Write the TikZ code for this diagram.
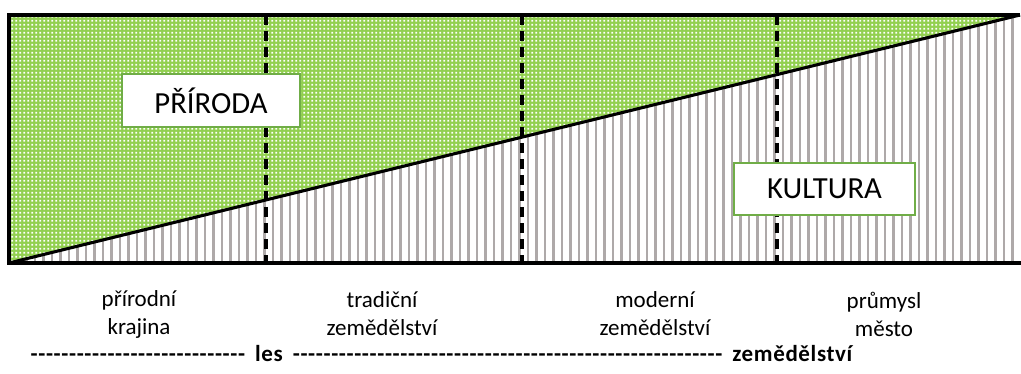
\documentclass[tikz,border=0pt]{standalone}
\usepackage{fontspec}
\setmainfont{Carlito}[Ligatures=TeXOff]
\usetikzlibrary{patterns}
\pgfdeclarepatternformonly{greendots}{\pgfqpoint{0pt}{0pt}}{\pgfqpoint{2.7pt}{2.7pt}}{\pgfqpoint{2.7pt}{2.7pt}}{\pgfpathrectangle{\pgfqpoint{0.35pt}{0.35pt}}{\pgfqpoint{1.4pt}{1.4pt}}\pgfusepath{fill}}
\definecolor{grassgreen}{HTML}{92D050}
\definecolor{boxgreen}{HTML}{70AD47}
\definecolor{hatchgray}{HTML}{AEA9A9}
\newcommand{\widespaces}{\addfontfeature{LetterSpace=2.8}\spaceskip=7.5pt\relax}
\tikzset{
  outline/.style={black, line width=2.3pt, line join=miter},
  hatchline/.style={hatchgray, line width=1.8pt},
  divider/.style={black, line width=2.4pt, dash pattern=on 7.5pt off 4.5pt},
  labelbox/.style={draw=boxgreen, line width=1.5pt, fill=white, inner sep=0pt,
    font=\fontsize{23}{28}\selectfont},
  caption/.style={align=center, font=\fontsize{17.25}{21}\selectfont},
  axis/.style={anchor=west, font=\fontsize{17.25}{21}\selectfont\bfseries}
}
\begin{document}
\begin{tikzpicture}[x=0.75pt,y=-0.75pt]
\useasboundingbox (0,0) rectangle (1021,374);
\coordinate (bl) at (9,263);
\coordinate (tl) at (9,15);
\coordinate (tr) at (1020,15);
\coordinate (br) at (1021,263);
% nature (green dotted)
\fill[grassgreen] (bl) -- (tl) -- (tr) -- cycle;
\fill[pattern=greendots, pattern color=white] (bl) -- (tl) -- (tr) -- cycle;
% culture (vertical hatch)
\begin{scope}
  \clip (bl) -- (tr) -- (1021,15) -- (br) -- cycle;
  \foreach \i in {0,...,119} \draw[hatchline] ({1012.3-8.5*\i},10) -- ++(0,260);
\end{scope}
% dividers
\foreach \x/\n in {266/a,522/b,777/c}{
  \coordinate (\n top) at (\x,15);
  \coordinate (\n bot) at (\x,263);
  \draw[divider] (\n top) -- (\n bot);
}
% outline
\draw[outline] (tr) -- (tl) -- (bl) -- (br);
\draw[outline] (bl) -- (tr);
% labels
\node[labelbox, minimum width=133.5pt, minimum height=39.75pt] (priroda) at (211,100.5) {PŘÍRODA};
\node[labelbox, minimum width=135.75pt, minimum height=39pt] (kultura) at (824.5,189) {KULTURA};
% captions
\node[caption] (c1) at (139,314) {přírodní\\krajina};
\node[caption] (c2) at (382,314) {tradiční\\zemědělství};
\node[caption] (c3) at (655,314) {moderní\\zemědělství};
\node[caption] (c4) at (884,314) {průmysl\\město};
\node[axis] (scale) at (26,354) {\widespaces ---------------------------- les -------------------------------------------------------- zemědělství};
\end{tikzpicture}
\end{document}
